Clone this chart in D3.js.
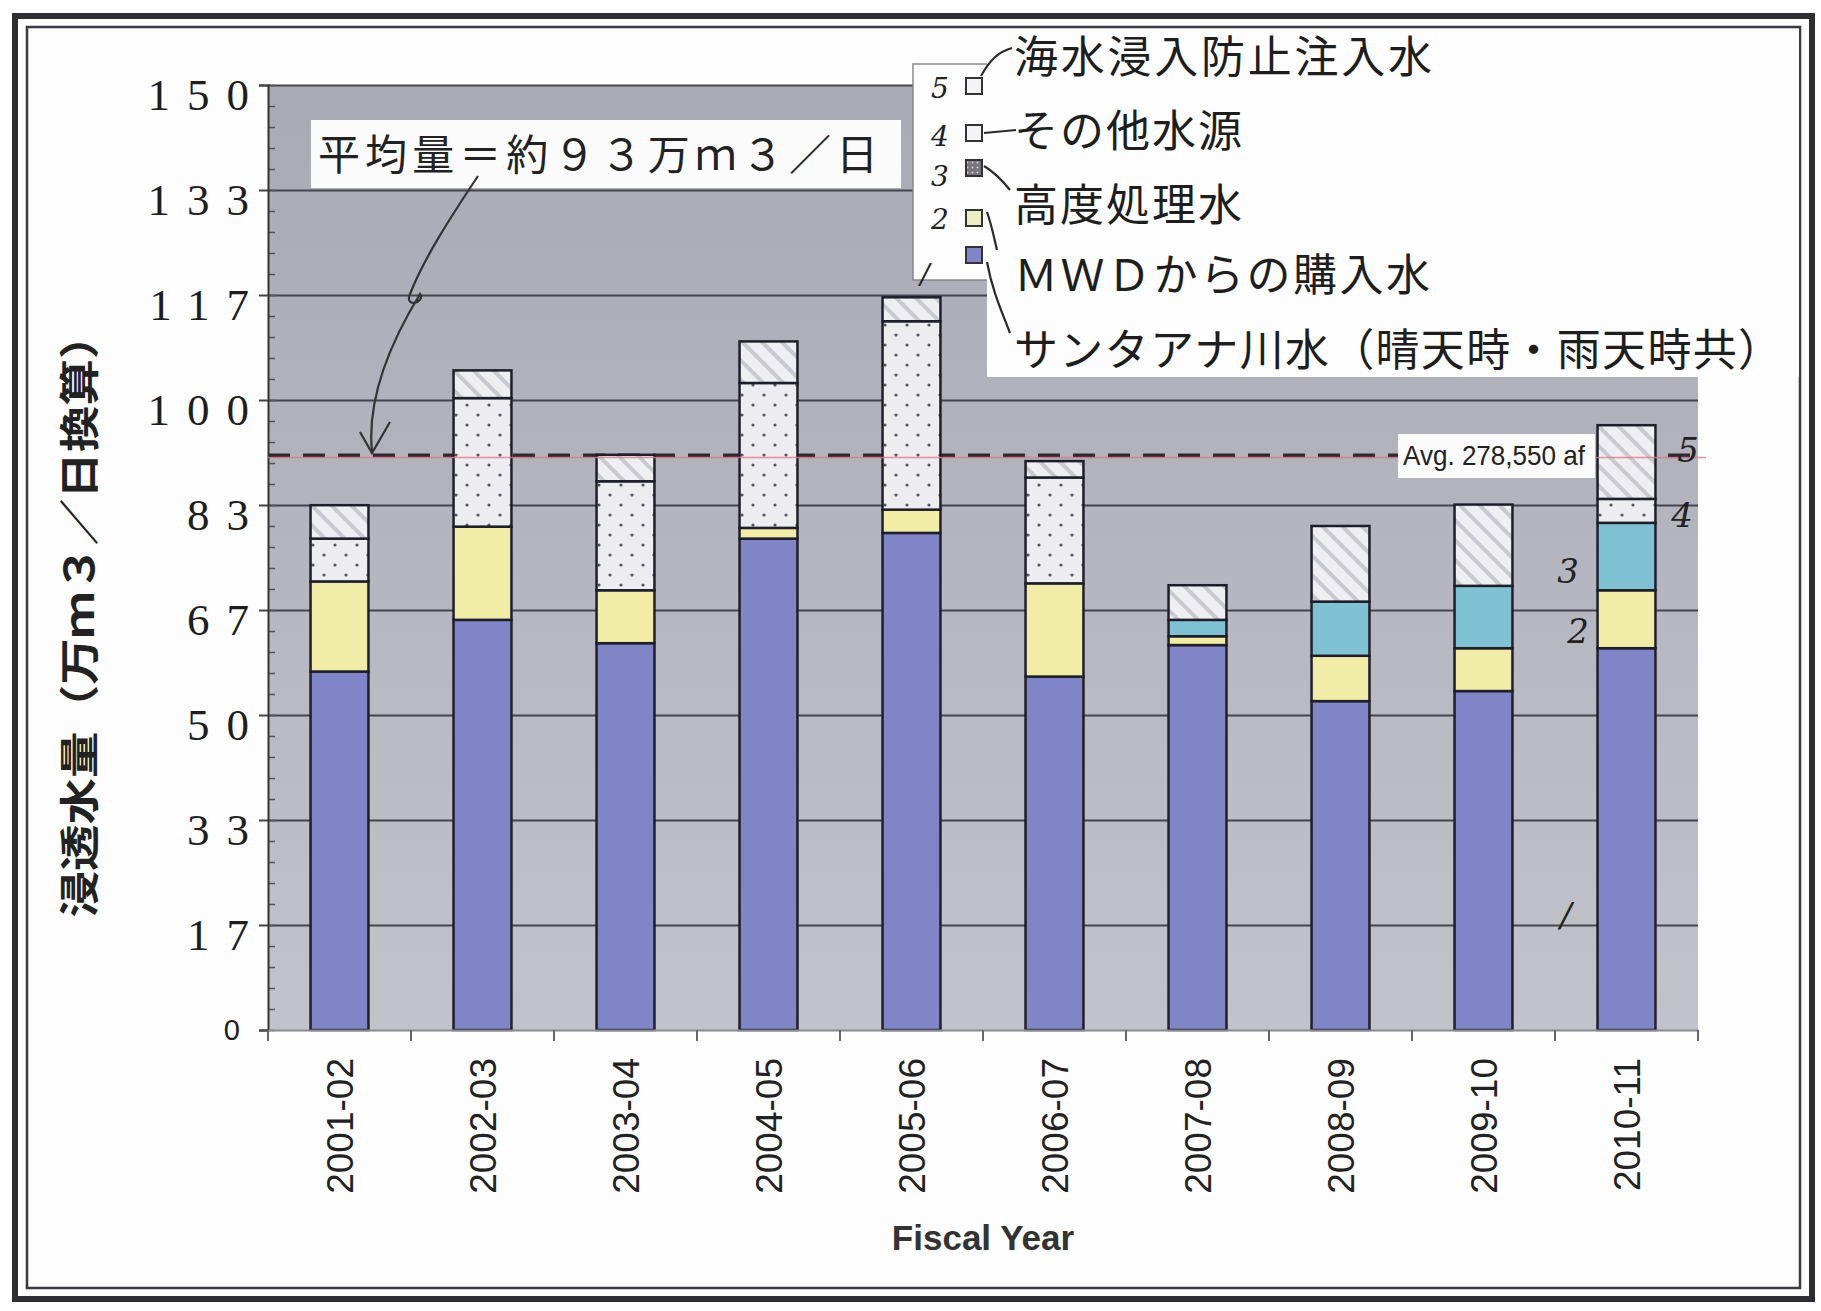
<!DOCTYPE html>
<html>
<head>
<meta charset="utf-8">
<script src="https://cdn.jsdelivr.net/npm/d3@7"></script>
<style>
  body { margin: 0; background: #fff; }
  svg { display: block; }
</style>
</head>
<body>
<div id="chart"></div>
<script>
// values in 万m3/日
const years = ["2001-02", "2002-03", "2003-04", "2004-05", "2005-06", "2006-07", "2007-08", "2008-09", "2009-10", "2010-11"];
const santaAna = [56.9, 65.1, 61.4, 78.0, 78.9, 56.1, 61.1, 52.2, 53.8, 60.6];
const mwd      = [14.3, 14.8, 8.4, 1.7, 3.7, 14.8, 1.4, 7.2, 6.8, 9.2];
const gwrs     = [0, 0, 0, 0, 0, 0, 2.6, 8.6, 9.9, 10.7];
const other    = [6.8, 20.4, 17.3, 23.0, 29.9, 16.8, 0, 0, 0, 3.8];
const seawater = [5.3, 4.4, 4.2, 6.6, 3.8, 2.6, 5.5, 12.0, 12.9, 11.7];
const avgValue = 91.2;

const yTickVals = [0, 50 / 3, 100 / 3, 50, 200 / 3, 250 / 3, 100, 350 / 3, 400 / 3, 150];
const yTickLabels = ["0", "17", "33", "50", "67", "83", "100", "117", "133", "150"];

const legendLabels = ["海水浸入防止注入水", "その他水源", "高度処理水", "ＭＷＤからの購入水", "サンタアナ川水（晴天時・雨天時共）"];
const handNumbers = ["5", "4", "3", "2", "1"];

const W = 1821, H = 1311;
const plot = { left: 268, right: 1698, top: 85, bottom: 1030 };

const svg = d3.select("#chart").append("svg")
    .attr("width", W)
    .attr("height", H);

const defs = svg.append("defs");

const bg = defs.append("linearGradient").attr("id", "bg")
    .attr("x1", 0).attr("y1", 0).attr("x2", 0).attr("y2", 1);
bg.append("stop").attr("offset", "0%").attr("stop-color", "#a9aab4");
bg.append("stop").attr("offset", "45%").attr("stop-color", "#b3b4be");
bg.append("stop").attr("offset", "100%").attr("stop-color", "#c2c3ca");

const dots = defs.append("pattern").attr("id", "dots")
    .attr("width", 22).attr("height", 20).attr("patternUnits", "userSpaceOnUse");
dots.append("rect").attr("width", 22).attr("height", 20).attr("fill", "#ececf1");
dots.append("circle").attr("cx", 5).attr("cy", 5).attr("r", 1.6).attr("fill", "#55555f");
dots.append("circle").attr("cx", 16).attr("cy", 15).attr("r", 1.6).attr("fill", "#55555f");

const hatch = defs.append("pattern").attr("id", "hatch")
    .attr("width", 14).attr("height", 14).attr("patternUnits", "userSpaceOnUse")
    .attr("patternTransform", "rotate(-45)");
hatch.append("rect").attr("width", 14).attr("height", 14).attr("fill", "#eeeef3");
hatch.append("line").attr("x1", 3).attr("y1", 0).attr("x2", 3).attr("y2", 14)
    .attr("stroke", "#c9c9d1").attr("stroke-width", 4);

const darkDots = defs.append("pattern").attr("id", "darkdots")
    .attr("width", 5).attr("height", 5).attr("patternUnits", "userSpaceOnUse");
darkDots.append("rect").attr("width", 5).attr("height", 5).attr("fill", "#77737f");
darkDots.append("circle").attr("cx", 2.5).attr("cy", 2.5).attr("r", 1).attr("fill", "#d8d4dc");

// outer double frame
svg.append("rect").attr("x", 15).attr("y", 16).attr("width", 1797).attr("height", 1283)
    .attr("fill", "#fdfdfd").attr("stroke", "#2e2e33").attr("stroke-width", 6);
svg.append("rect").attr("x", 27).attr("y", 27).attr("width", 1773).attr("height", 1261)
    .attr("fill", "none").attr("stroke", "#3a3a40").attr("stroke-width", 2.5);

const x = d3.scaleBand()
    .domain(years)
    .range([plot.left, plot.right])
    .paddingInner(0.595)
    .paddingOuter(0.2975);

const y = d3.scaleLinear()
    .domain([0, 150])
    .range([plot.bottom, plot.top]);

// plot background
svg.append("rect")
    .attr("x", plot.left).attr("y", plot.top)
    .attr("width", plot.right - plot.left).attr("height", plot.bottom - plot.top)
    .attr("fill", "url(#bg)");

// gridlines
svg.append("g")
    .attr("transform", "translate(" + plot.left + ",0)")
    .call(d3.axisLeft(y).tickValues(yTickVals.slice(1)).tickSize(-(plot.right - plot.left)).tickFormat(""))
    .call(g => g.select(".domain").remove())
    .selectAll("line").attr("stroke", "#45454f").attr("stroke-width", 2.2);

// minor ticks on the y axis
svg.append("g")
    .attr("transform", "translate(" + plot.left + ",0)")
    .call(d3.axisRight(y).tickValues(d3.range(0, 150.01, 10 / 3)).tickSize(7).tickFormat(""))
    .call(g => g.select(".domain").remove())
    .selectAll("line").attr("stroke", "#555").attr("stroke-width", 1.5);

// y axis with labels
const yAxis = svg.append("g")
    .attr("transform", "translate(" + plot.left + ",0)")
    .call(d3.axisLeft(y).tickValues(yTickVals).tickSize(9).tickFormat((d, i) => yTickLabels[i]));
yAxis.select(".domain").attr("stroke", "#333").attr("stroke-width", 2);
yAxis.selectAll(".tick line").attr("stroke", "#444").attr("stroke-width", 2);
yAxis.selectAll(".tick text")
    .attr("x", (d, i) => i === 0 ? -28 : -2)
    .attr("dy", (d, i) => i === 0 ? "0.32em" : "0.55em")
    .style("font-family", (d, i) => i === 0 ? "'Liberation Sans', Arial, sans-serif" : "'Liberation Serif', 'DejaVu Serif', serif")
    .style("font-size", (d, i) => i === 0 ? "29px" : "45px")
    .style("letter-spacing", (d, i) => i === 0 ? "0px" : "17px")
    .attr("fill", "#1e1e1e");

// average line (dashes behind bars)
svg.append("line")
    .attr("x1", plot.left).attr("x2", plot.right)
    .attr("y1", y(avgValue)).attr("y2", y(avgValue))
    .attr("stroke", "#2d2a33").attr("stroke-width", 4)
    .attr("stroke-dasharray", "22,13");

// stacked bars
const keys = ["santaAna", "mwd", "gwrs", "other", "seawater"];
const fills = { santaAna: "#7f85c7", mwd: "#f1eca8", gwrs: "#80c2d3", other: "url(#dots)", seawater: "url(#hatch)" };
const table = years.map((yr, i) => ({
    year: yr, santaAna: santaAna[i], mwd: mwd[i], gwrs: gwrs[i], other: other[i], seawater: seawater[i]
}));
const series = d3.stack().keys(keys)(table);

svg.append("g").selectAll("g")
    .data(series)
    .enter().append("g")
    .attr("fill", d => fills[d.key])
    .selectAll("rect")
    .data(d => d.filter(s => s[1] - s[0] > 0))
    .enter().append("rect")
    .attr("x", d => x(d.data.year))
    .attr("width", x.bandwidth())
    .attr("y", d => y(d[1]))
    .attr("height", d => y(d[0]) - y(d[1]))
    .attr("stroke", "#1f1f2a")
    .attr("stroke-width", 2.5);

// thin red line of the average on top
svg.append("line")
    .attr("x1", plot.left).attr("x2", plot.right + 8)
    .attr("y1", y(avgValue) + 2).attr("y2", y(avgValue) + 2)
    .attr("stroke", "#e07a86").attr("stroke-width", 1.5).attr("opacity", 0.8);

// x axis
const xAxis = svg.append("g")
    .attr("transform", "translate(0," + plot.bottom + ")")
    .call(d3.axisBottom(x).tickSize(0).tickSizeOuter(0));
xAxis.select(".domain").attr("stroke", "#8a8a92").attr("stroke-width", 2);
xAxis.selectAll(".tick text")
    .attr("transform", "rotate(-90)")
    .attr("x", -28).attr("y", 0).attr("dy", "0.36em")
    .style("text-anchor", "end")
    .style("font-family", "'Liberation Sans', Arial, sans-serif")
    .style("font-size", "37px")
    .attr("fill", "#222");
const boundaries = years.map(d => x(d) - (x.step() - x.bandwidth()) / 2).concat([plot.right]);
svg.append("g").selectAll("line")
    .data(boundaries)
    .enter().append("line")
    .attr("x1", d => d).attr("x2", d => d)
    .attr("y1", plot.bottom).attr("y2", plot.bottom + 11)
    .attr("stroke", "#666").attr("stroke-width", 2);

svg.append("text")
    .attr("x", (plot.left + plot.right) / 2).attr("y", 1250)
    .attr("text-anchor", "middle")
    .style("font-family", "'Liberation Sans', Arial, sans-serif")
    .style("font-weight", "bold").style("font-size", "35px")
    .attr("fill", "#333")
    .text("Fiscal Year");

// y axis title
svg.append("text")
    .attr("transform", "translate(80,615) rotate(-90)")
    .attr("text-anchor", "middle").attr("dy", "0.35em")
    .attr("textLength", 605).attr("lengthAdjust", "spacingAndGlyphs")
    .style("font-family", "'Noto Sans CJK JP', sans-serif")
    .style("font-weight", "bold").style("font-size", "40px")
    .attr("fill", "#222")
    .text("浸透水量（万ｍ３／日換算）");

// "Avg." label box
svg.append("rect").attr("x", 1398).attr("y", 434).attr("width", 197).attr("height", 44).attr("fill", "#fbfbfb");
svg.append("text")
    .attr("x", 1403).attr("y", y(avgValue) + 10)
    .attr("textLength", 182).attr("lengthAdjust", "spacingAndGlyphs")
    .style("font-family", "'Liberation Sans', Arial, sans-serif")
    .style("font-size", "28px").attr("fill", "#222")
    .text("Avg. 278,550 af");

// annotation: average amount
svg.append("rect").attr("x", 311).attr("y", 120).attr("width", 590).attr("height", 68).attr("fill", "#fbfbfb");
svg.append("text")
    .attr("x", 318).attr("y", 155).attr("dy", "0.35em")
    .attr("textLength", 560).attr("lengthAdjust", "spacing")
    .style("font-family", "'Noto Sans CJK JP', sans-serif")
    .style("font-size", "42px").attr("fill", "#222")
    .text("平均量＝約９３万ｍ３／日");
svg.append("path")
    .attr("d", "M478,176 C452,215 424,258 410,294 C404,309 426,302 420,294 C398,330 366,392 372,452")
    .attr("fill", "none").attr("stroke", "#333").attr("stroke-width", 2.2);
svg.append("path")
    .attr("d", "M360,432 L372,453 L390,422")
    .attr("fill", "none").attr("stroke", "#333").attr("stroke-width", 2.2);

// legend label box (Japanese labels over the original legend)
svg.append("rect").attr("x", 913).attr("y", 64).attr("width", 80).attr("height", 216)
    .attr("fill", "#fdfdfd").attr("stroke", "#888").attr("stroke-width", 1.5);
svg.append("rect").attr("x", 987).attr("y", 29).attr("width", 812).attr("height", 348).attr("fill", "#fdfdfd");

const swatchFills = ["#f4f4f6", "#f4f4f6", "url(#darkdots)", "#efedc8", "#7f85c7"];
const swatchY = [86, 133, 168, 218, 255];
svg.append("g").selectAll("rect")
    .data(swatchFills)
    .enter().append("rect")
    .attr("x", 966).attr("y", (d, i) => swatchY[i] - 8)
    .attr("width", 16).attr("height", 16)
    .attr("fill", d => d).attr("stroke", "#333").attr("stroke-width", 2);

const labelY = [57, 131, 205, 275, 350];
const labelLen = [418, 228, 228, 416, 768];
svg.append("g").selectAll("text")
    .data(legendLabels)
    .enter().append("text")
    .attr("x", 1014).attr("y", (d, i) => labelY[i]).attr("dy", "0.36em")
    .attr("textLength", (d, i) => labelLen[i]).attr("lengthAdjust", "spacing")
    .style("font-family", "'Noto Sans CJK JP', sans-serif")
    .style("font-size", "44px").attr("fill", "#1e1e1e")
    .text(d => d);

// hand-drawn connectors
const connectors = [
    "M981,76 C990,60 998,52 1012,48",
    "M984,133 L1016,130",
    "M984,166 C994,172 1002,180 1010,190",
    "M987,212 C992,226 994,238 997,250",
    "M987,262 C992,290 1002,312 1010,333"
];
svg.append("g").selectAll("path")
    .data(connectors)
    .enter().append("path")
    .attr("d", d => d)
    .attr("fill", "none").attr("stroke", "#2a2a2a").attr("stroke-width", 2.2);

// hand-written numbers by the legend
const handY = [88, 136, 176, 219, 274];
svg.append("g").selectAll("text")
    .data(handNumbers)
    .enter().append("text")
    .attr("x", (d, i) => i === 4 ? 925 : 940).attr("y", (d, i) => handY[i]).attr("dy", "0.35em")
    .attr("text-anchor", "middle")
    .style("font-family", "'DejaVu Serif', serif").style("font-style", "italic")
    .style("font-size", "28px").attr("fill", "#222")
    .text(d => d === "1" ? "/" : d);

// hand-written numbers by the last bar
const barNotes = [
    { t: "5", x: 1688, y: 450 },
    { t: "4", x: 1682, y: 515 },
    { t: "3", x: 1568, y: 571 },
    { t: "2", x: 1578, y: 631 },
    { t: "/", x: 1566, y: 915 }
];
svg.append("g").selectAll("text")
    .data(barNotes)
    .enter().append("text")
    .attr("x", d => d.x).attr("y", d => d.y).attr("dy", "0.35em")
    .attr("text-anchor", "middle")
    .style("font-family", "'DejaVu Serif', serif").style("font-style", "italic")
    .style("font-size", "34px").attr("fill", "#222")
    .text(d => d.t);
</script>
</body>
</html>
